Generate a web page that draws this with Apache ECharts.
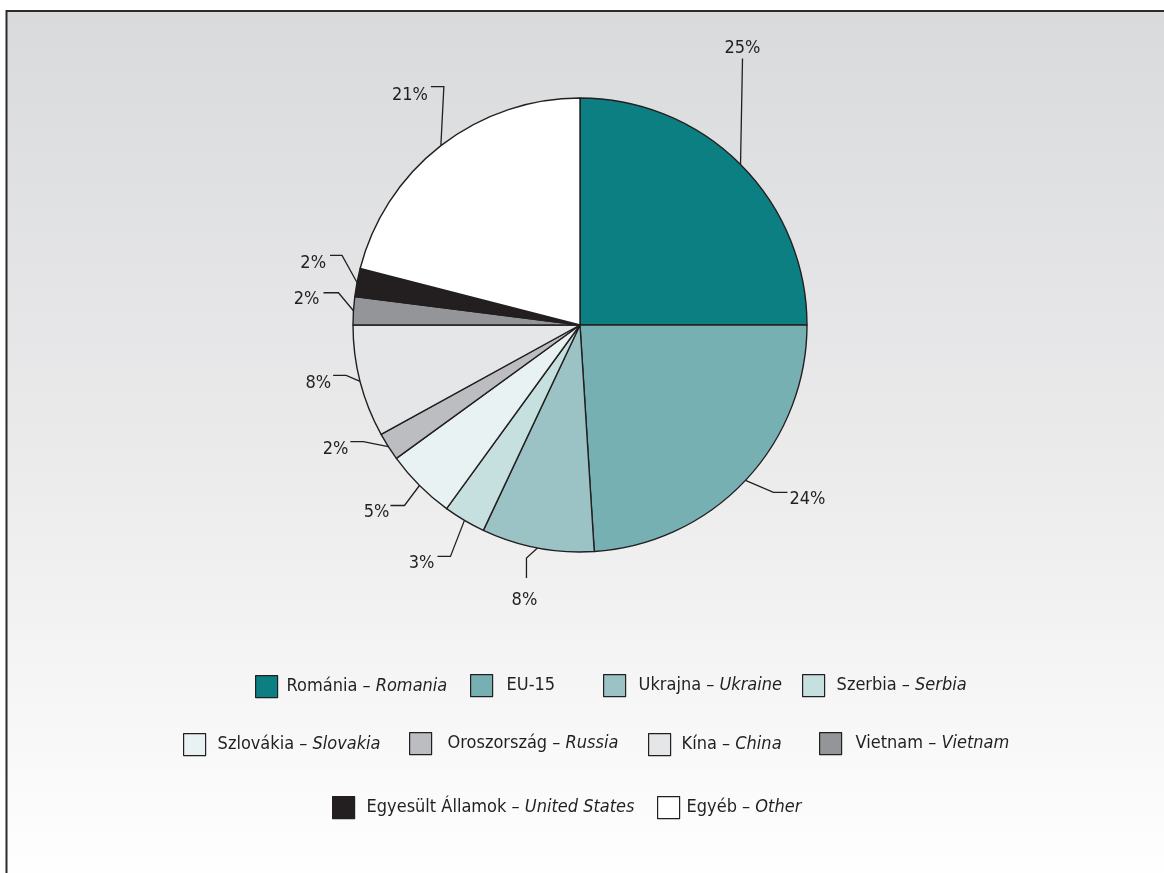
<!DOCTYPE html>
<html>
<head>
<meta charset="utf-8">
<script src="https://cdn.jsdelivr.net/npm/echarts@6/dist/echarts.min.js"></script>
<style>
  html, body { margin: 0; padding: 0; background: #ffffff; }
  #chart { width: 1164px; height: 873px; }
</style>
</head>
<body>
<div id="chart"></div>
<script>
// Share of each origin country (percent)
const huNames = ['Románia', 'EU-15', 'Ukrajna', 'Szerbia', 'Szlovákia', 'Oroszország', 'Kína', 'Vietnam', 'Egyesült Államok', 'Egyéb'];
const enNames = ['Romania', '', 'Ukraine', 'Serbia', 'Slovakia', 'Russia', 'China', 'Vietnam', 'United States', 'Other'];
const shares = [25, 24, 8, 3, 5, 2, 8, 2, 2, 21];

const sliceColors = ['#0c7f83', '#77b0b2', '#9bc3c5', '#c6e0e0', '#e9f2f3', '#bcbdc1', '#e5e6e8', '#949598', '#231f20', '#ffffff'];

const FONT = '"DejaVu Sans Condensed", "Liberation Sans", sans-serif';
const FS = 18;
const INK = '#231f20';

// pie geometry
const cx = 580, cy = 325, R = 227, START = 90;

// leader line shape for each slice: elbow offset, end offset, label anchor
const leaders = [
  { e: [2, -106],  f: [0, 0],   t: [0, -1],  a: 'center', v: 'bottom' },
  { e: [28, 12],   f: [14, 0],  t: [2, 7],   a: 'left',   v: 'middle' },
  { e: [-11, 10],  f: [0, 20],  t: [-2, 22], a: 'center', v: 'middle' },
  { e: [-14, 36],  f: [-13, 0], t: [-3, 7],  a: 'right',  v: 'middle' },
  { e: [-15, 20],  f: [-14, 0], t: [-1, 7],  a: 'right',  v: 'middle' },
  { e: [-25, -5],  f: [-13, 0], t: [-2, 8],  a: 'right',  v: 'middle' },
  { e: [-14, -6],  f: [-13, 0], t: [-2, 8],  a: 'right',  v: 'middle' },
  { e: [-15, -18], f: [-15, 0], t: [-4, 7],  a: 'right',  v: 'middle' },
  { e: [-15, -27], f: [-12, 0], t: [-4, 8],  a: 'right',  v: 'middle' },
  { e: [3, -59],   f: [-13, 0], t: [-3, 9],  a: 'right',  v: 'middle' }
];

// legend placement: [left, top, gap between swatch and text]
const legendSpots = [
  [255, 675, 4], [470, 674, 9], [603, 674, 8], [802, 674, 7],
  [183, 733, 7], [409, 732, 11], [648, 733, 6], [819, 732, 9],
  [332, 796, 7], [657, 796, 2]
];

const total = shares.reduce((s, v) => s + v, 0);
const midAngles = [];
(function () {
  let acc = 0;
  shares.forEach(v => {
    midAngles.push((acc + v / 2) / total * 360);
    acc += v;
  });
})();

function arcPoint(i) {
  const a = (midAngles[i] + (90 - START)) * Math.PI / 180;
  return [cx + R * Math.sin(a), cy - R * Math.cos(a)];
}

const chart = echarts.init(document.getElementById('chart'), null, { renderer: 'canvas' });

const legends = huNames.map((name, i) => ({
  data: [name],
  left: legendSpots[i][0],
  top: legendSpots[i][1],
  padding: 0,
  orient: 'horizontal',
  selectedMode: false,
  icon: 'rect',
  itemWidth: 22,
  itemHeight: 22,
  itemStyle: { borderColor: INK, borderWidth: 1.2 },
  formatter: () => enNames[i]
    ? '{n|' + name + ' – }{i|' + enNames[i] + '}'
    : '{n|' + name + '}',
  textStyle: {
    padding: [0, 0, 0, legendSpots[i][2]],
    rich: {
      n: { fontFamily: FONT, fontSize: FS, color: INK, lineHeight: 22 },
      i: { fontFamily: FONT, fontSize: FS, color: INK, fontStyle: 'italic', lineHeight: 22 }
    }
  }
}));

const option = {
  animation: false,
  backgroundColor: '#ffffff',
  graphic: [{
    type: 'rect',
    z: -10,
    silent: true,
    shape: { x: 6.5, y: 11, width: 1200, height: 900 },
    style: {
      fill: new echarts.graphic.LinearGradient(0, 0, 0, 1, [
        { offset: 0, color: '#d9dadc' },
        { offset: 0.5, color: '#ebebec' },
        { offset: 0.95, color: '#fefefe' },
        { offset: 1, color: '#ffffff' }
      ]),
      stroke: '#2b2b2b',
      lineWidth: 2
    }
  }],
  legend: legends,
  series: [{
    type: 'pie',
    center: [cx, cy],
    radius: [0, R],
    startAngle: START,
    clockwise: true,
    avoidLabelOverlap: false,
    data: huNames.map((name, i) => ({
      name: name,
      value: shares[i],
      itemStyle: { color: sliceColors[i] }
    })),
    itemStyle: { borderColor: INK, borderWidth: 1.4 },
    label: {
      show: true,
      position: 'outside',
      formatter: '{c}%',
      fontFamily: FONT,
      fontSize: FS,
      color: INK
    },
    labelLine: {
      show: true,
      length: 10,
      length2: 10,
      lineStyle: { color: INK, width: 1.3 }
    },
    labelLayout: function (params) {
      const i = params.dataIndex;
      const L = leaders[i];
      const s = arcPoint(i);
      const p1 = [s[0] + L.e[0], s[1] + L.e[1]];
      const p2 = [p1[0] + L.f[0], p1[1] + L.f[1]];
      return {
        x: p2[0] + L.t[0],
        y: p2[1] + L.t[1],
        align: L.a,
        verticalAlign: L.v,
        hideOverlap: false,
        labelLinePoints: [s, p1, p2]
      };
    },
    emphasis: { disabled: true }
  }]
};

chart.setOption(option);
</script>
</body>
</html>
